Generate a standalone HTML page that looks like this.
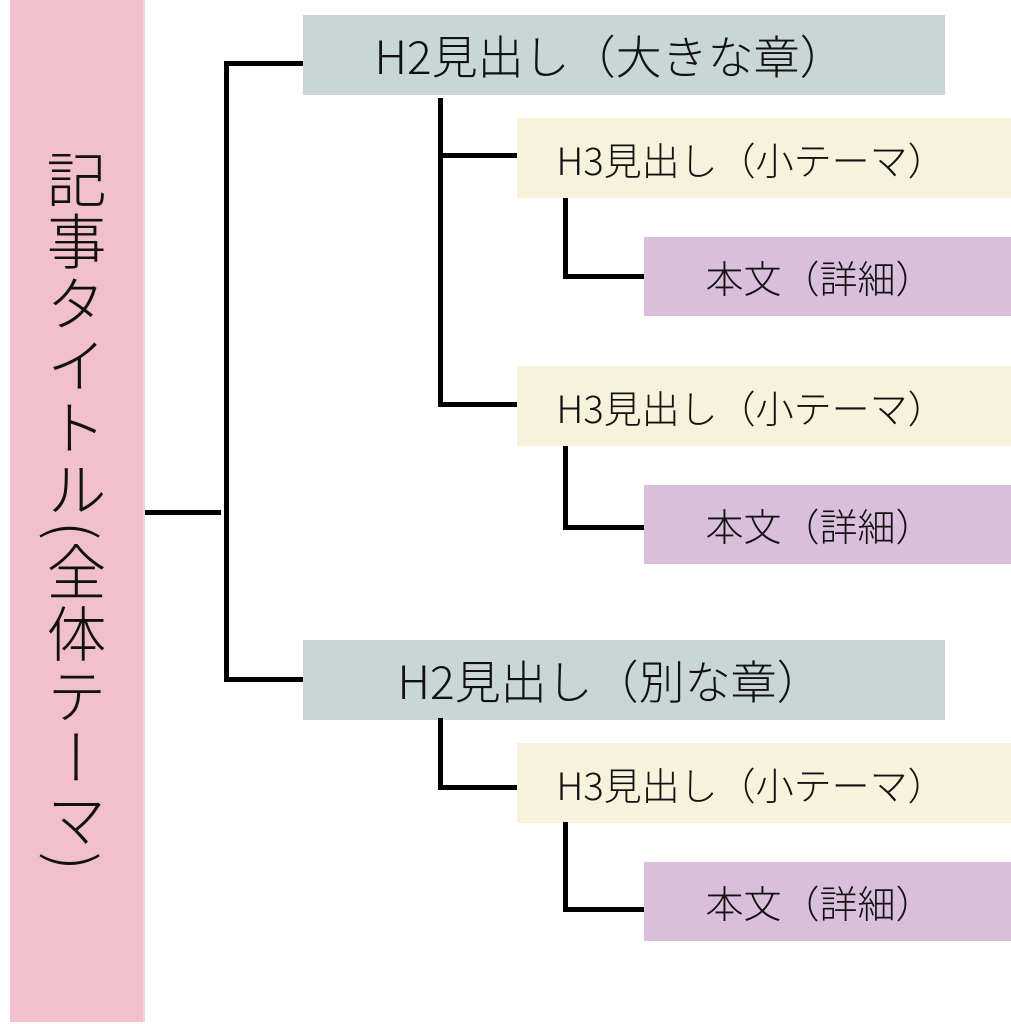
<!DOCTYPE html>
<html><head><meta charset="utf-8"><style>
body{margin:0;width:1011px;height:1024px;background:#fff;position:relative;overflow:hidden;font-family:"Noto Sans CJK JP",sans-serif;font-weight:300}
.b{position:absolute;display:flex;align-items:center;justify-content:center;color:#111;white-space:nowrap;box-sizing:border-box}
.h2{background:#c9d6d6;font-size:46px;left:303px;width:642px;height:80px;padding-right:28px}
.h3{background:#f7f2dc;font-size:38px;left:517px;width:494px;height:80px;padding-right:26px}
.p{background:#d9bfdc;font-size:38px;left:644px;width:367px;height:79px;padding-right:16px}
.l{position:absolute;background:#000}
.t{position:absolute;left:10px;top:0;width:133px;height:1022px;background:#f1c0cc;border-right:2px solid #f4d4da;writing-mode:vertical-rl;font-size:60px;display:flex;align-items:center;justify-content:center;letter-spacing:2px;color:#111}
</style></head><body>
<div class="t">記事タイトル(全体テーマ)</div>
<div class="l" style="left:145px;top:510px;width:76px;height:5px"></div>
<div class="l" style="left:224px;top:61px;width:5px;height:621px"></div>
<div class="l" style="left:224px;top:61px;width:79px;height:5px"></div>
<div class="l" style="left:224px;top:677px;width:79px;height:5px"></div>
<div class="b h2" style="top:15px">H2見出し（大きな章）</div>
<div class="l" style="left:438px;top:98px;width:5px;height:309px"></div>
<div class="l" style="left:438px;top:153px;width:79px;height:5px"></div>
<div class="l" style="left:438px;top:402px;width:79px;height:5px"></div>
<div class="b h3" style="top:118px">H3見出し（小テーマ）</div>
<div class="l" style="left:563px;top:198px;width:5px;height:81px"></div>
<div class="l" style="left:563px;top:274px;width:81px;height:5px"></div>
<div class="b p" style="top:237px">本文（詳細）</div>
<div class="b h3" style="top:366px">H3見出し（小テーマ）</div>
<div class="l" style="left:563px;top:446px;width:5px;height:84px"></div>
<div class="l" style="left:563px;top:525px;width:81px;height:5px"></div>
<div class="b p" style="top:485px">本文（詳細）</div>
<div class="b h2" style="top:640px">H2見出し（別な章）</div>
<div class="l" style="left:438px;top:718px;width:5px;height:72px"></div>
<div class="l" style="left:438px;top:785px;width:79px;height:5px"></div>
<div class="b h3" style="top:743px">H3見出し（小テーマ）</div>
<div class="l" style="left:563px;top:822px;width:5px;height:90px"></div>
<div class="l" style="left:563px;top:907px;width:81px;height:5px"></div>
<div class="b p" style="top:862px">本文（詳細）</div>
</body></html>
